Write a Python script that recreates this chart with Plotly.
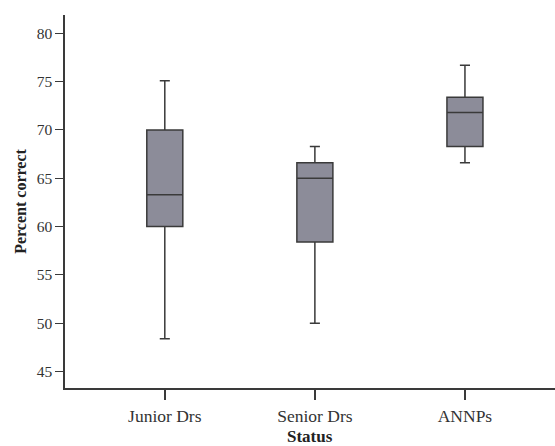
import plotly.graph_objects as go

# Summary statistics of percent correct, per staff group
groups = ["Junior Drs", "Senior Drs", "ANNPs"]
lower_whisker = [48.4, 50.0, 66.6]
q1 = [60.0, 58.4, 68.3]
median = [63.3, 65.0, 71.8]
q3 = [70.0, 66.6, 73.4]
upper_whisker = [75.1, 68.3, 76.7]
y_ticks = [45, 50, 55, 60, 65, 70, 75, 80]

FONT = "Liberation Serif"
LINE = "#3a3a3a"

fig = go.Figure()
fig.add_trace(go.Box(
    x=groups,
    q1=q1,
    median=median,
    q3=q3,
    lowerfence=lower_whisker,
    upperfence=upper_whisker,
    fillcolor="#8c8c99",
    line=dict(color=LINE, width=1.5),
    whiskerwidth=0.28,
    width=0.24,
    boxpoints=False,
    showlegend=False,
))

# x-axis title placed below the tick labels
fig.add_annotation(
    text="<b>Status</b>",
    xref="paper", yref="paper",
    x=0.5, y=0,
    yshift=-48,
    yanchor="middle",
    showarrow=False,
    font=dict(family=FONT, size=17, color="#222222"),
)

fig.update_layout(
    width=555,
    height=446,
    margin=dict(l=65, r=0, t=15, b=58),
    paper_bgcolor="white",
    plot_bgcolor="white",
    font=dict(family=FONT, size=16, color="#333333"),
    xaxis=dict(
        range=[-0.665, 2.6],
        automargin=False,
        showline=True,
        linecolor=LINE,
        linewidth=1.5,
        ticks="outside",
        ticklen=10,
        tickwidth=1.5,
        tickcolor=LINE,
        ticklabelstandoff=1,
        showgrid=False,
        zeroline=False,
        tickfont=dict(family=FONT, size=17.5, color="#333333"),
    ),
    yaxis=dict(
        range=[43.3, 81.9],
        automargin=False,
        tickvals=y_ticks,
        showline=True,
        linecolor=LINE,
        linewidth=1.5,
        ticks="outside",
        ticklen=8,
        tickwidth=1.2,
        tickcolor=LINE,
        showgrid=False,
        zeroline=False,
        tickfont=dict(family=FONT, size=15.5, color="#333333"),
        title=dict(text="<b>Percent correct</b>", font=dict(family=FONT, size=16, color="#222222"), standoff=6),
    ),
)

fig.write_html("out.html")
